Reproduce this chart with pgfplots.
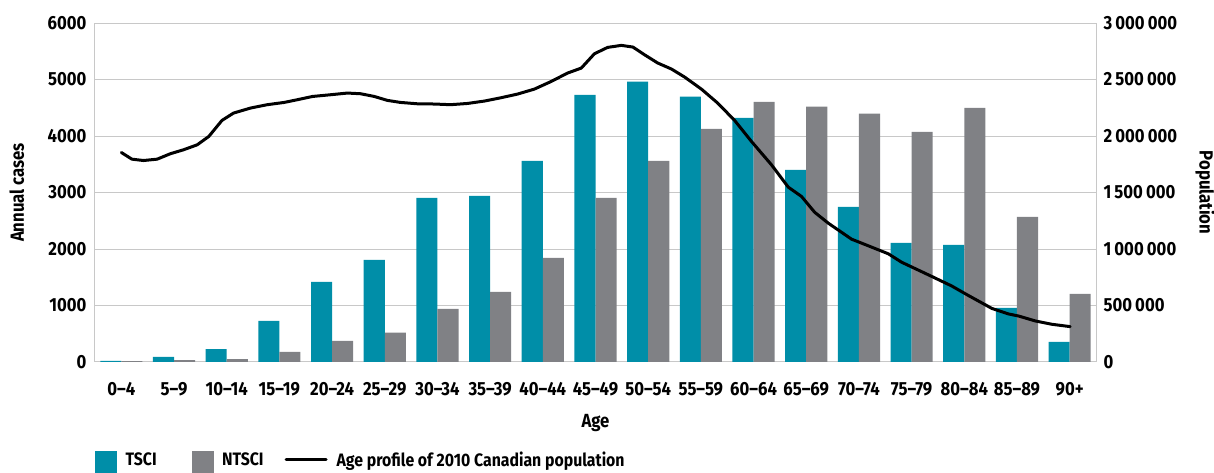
\documentclass[border=0pt]{standalone}
\usepackage{pgfplots}
\pgfplotsset{compat=1.18}
\usepackage{fontspec}
\setmainfont{Fira Sans}[FakeStretch=0.88]
\definecolor{tsci}{RGB}{0,142,168}
\definecolor{ntsci}{RGB}{128,129,133}
\definecolor{gridc}{RGB}{200,200,200}

\pgfplotstableread{
x tsci ntsci
0 20 15
1 89 35
2 230 53
3 726 177
4 1417 372
5 1807 518
6 2905 939
7 2941 1240
8 3561 1843
9 4730 2905
10 4961 3561
11 4695 4128
12 4323 4606
13 3402 4518
14 2746 4394
15 2108 4075
16 2073 4500
17 957 2569
18 354 1205
}\casedata

\pgfplotstableread{
u pop
0 1854000
0.2 1795000
0.42 1783000
0.68 1795000
0.93 1843000
1.18 1878000
1.44 1922000
1.66 1996000
1.91 2138000
2.13 2203000
2.45 2247000
2.77 2277000
3.09 2297000
3.34 2321000
3.63 2350000
3.97 2365000
4.29 2380000
4.54 2374000
4.80 2350000
5.05 2315000
5.30 2297000
5.62 2285000
5.94 2283000
6.25 2277000
6.57 2288000
6.89 2309000
7.21 2339000
7.52 2371000
7.84 2415000
8.16 2483000
8.47 2557000
8.73 2601000
8.98 2728000
9.23 2784000
9.49 2802000
9.71 2787000
9.93 2719000
10.18 2646000
10.44 2593000
10.69 2522000
11.01 2415000
11.32 2291000
11.64 2138000
11.96 1952000
12.34 1745000
12.66 1547000
12.91 1465000
13.16 1325000
13.42 1228000
13.86 1087000
14.18 1028000
14.56 957000
14.81 883000
15.32 771000
15.76 673000
16.08 588000
16.52 475000
16.84 425000
17.03 407000
17.35 363000
17.66 334000
18.01 313000
}\popdata

\begin{document}
\begin{tikzpicture}[font=\bfseries]
\pgfplotsset{
  common/.style={
    scale only axis, width=1001pt, height=339pt,
    xmin=-0.5, xmax=18.5,
    major tick length=0pt,
    axis line style={gridc, line width=1pt},
    tick label style={font=\fontsize{19}{21}\selectfont\bfseries},
    label style={font=\fontsize{19}{21}\selectfont\bfseries},
    /pgf/number format/assume math mode=true,
    /pgf/number format/fixed,
    scaled y ticks=false,
  }
}
\begin{axis}[common, name=main,
  ymin=0, ymax=6000,
  ytick={0,1000,...,6000},
  /pgf/number format/1000 sep={},
  ymajorgrids, major grid style={gridc, line width=1pt},
  xtick={0,...,18},
  xticklabels={0–4,5–9,10–14,15–19,20–24,25–29,30–34,35–39,40–44,45–49,50–54,55–59,60–64,65–69,70–74,75–79,80–84,85–89,90+},
  xticklabel style={yshift=-17pt},
  yticklabel style={xshift=-5pt},
  xlabel={Age}, ylabel={Annual cases},
  xlabel style={at={(axis description cs:0.5,-0.18)}, anchor=center},
  ylabel style={at={(axis description cs:-0.078,0.5)}, anchor=center},
]
\addplot[ybar, bar width=0.4, bar shift=-0.2, fill=tsci, draw=none] table[x=x,y=tsci] {\casedata};
\addplot[ybar, bar width=0.4, bar shift=0.2, fill=ntsci, draw=none] table[x=x,y=ntsci] {\casedata};
\end{axis}
\begin{axis}[common,
  axis y line*=right, axis x line=none,
  ymin=0, ymax=3000000,
  ytick={0,500000,1000000,1500000,2000000,2500000,3000000},
  yticklabels={0,500\,000,1\,000\,000,1\,500\,000,2\,000\,000,2\,500\,000,3\,000\,000},
  yticklabel style={xshift=4pt},
  ylabel={Population},
  ylabel style={at={(axis description cs:1.109,0.5)}, anchor=center, rotate=180},
  legend style={at={(axis description cs:0,-0.295)}, anchor=west, draw=none, fill=none,
    inner sep=0pt, nodes={inner sep=0pt},
    font=\fontsize{18}{20}\selectfont\bfseries,
    /tikz/every odd column/.append style={column sep=9pt},
    /tikz/every even column/.append style={column sep=21pt}},
  legend columns=3,
]
\addlegendimage{legend image code/.code={\fill[tsci] (0pt,-13pt) rectangle (21pt,8pt);}}
\addlegendentry{TSCI\rule{14pt}{0pt}}
\addlegendimage{legend image code/.code={\fill[ntsci] (0pt,-13pt) rectangle (21pt,8pt);}}
\addlegendentry{NTSCI}
\addplot[black, line width=3pt, line join=round, line cap=round,
  legend image code/.code={\draw[black, line width=3pt] (0pt,0pt) -- (40pt,0pt);}] table[x=u,y=pop] {\popdata};
\addlegendentry{Age profile of 2010 Canadian population}
\end{axis}
\pgfresetboundingbox
\useasboundingbox ([shift={(-95pt,-111pt)}]main.south west) rectangle ([shift={(118pt,23pt)}]main.north east);
\end{tikzpicture}
\end{document}
